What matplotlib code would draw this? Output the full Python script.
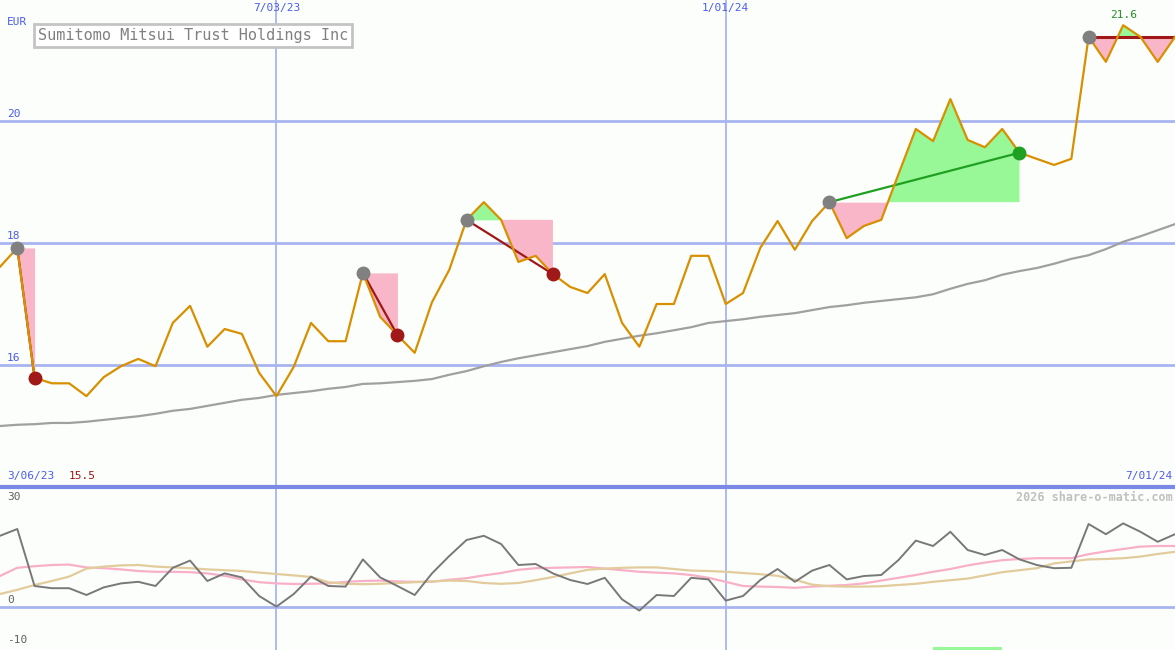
import matplotlib
matplotlib.use("Agg")
import matplotlib.pyplot as plt
import numpy as np

# weekly closes, 13 Mar 2023 .. 1 Jul 2024
price = [17.61, 17.92, 15.79, 15.70, 15.70, 15.49, 15.80, 15.98, 16.10, 15.98,
         16.69, 16.97, 16.30, 16.59, 16.51, 15.87, 15.49, 15.97, 16.69, 16.39,
         16.39, 17.51, 16.79, 16.49, 16.20, 17.03, 17.56, 18.38, 18.67, 18.38,
         17.69, 17.79, 17.49, 17.28, 17.18, 17.49, 16.69, 16.30, 17.00, 17.00,
         17.79, 17.79, 17.00, 17.18, 17.92, 18.36, 17.89, 18.36, 18.67, 18.08,
         18.28, 18.38, 19.13, 19.87, 19.67, 20.36, 19.69, 19.57, 19.87, 19.48,
         19.38, 19.28, 19.38, 21.38, 20.97, 21.57, 21.38, 20.97, 21.38]

ma_long = [15.00, 15.02, 15.03, 15.05, 15.05, 15.07, 15.10, 15.13, 15.16, 15.20,
           15.25, 15.28, 15.33, 15.38, 15.43, 15.46, 15.51, 15.54, 15.57, 15.61,
           15.64, 15.69, 15.70, 15.72, 15.74, 15.77, 15.84, 15.90, 15.98, 16.05,
           16.11, 16.16, 16.21, 16.26, 16.31, 16.38, 16.43, 16.48, 16.52, 16.57,
           16.62, 16.69, 16.72, 16.75, 16.79, 16.82, 16.85, 16.90, 16.95, 16.98,
           17.02, 17.05, 17.08, 17.11, 17.16, 17.25, 17.33, 17.39, 17.48, 17.54,
           17.59, 17.66, 17.74, 17.80, 17.90, 18.02, 18.11, 18.21, 18.31]

osc = [17.8, 19.5, 5.25, 4.7, 4.7, 3.0, 4.9, 5.9, 6.3, 5.25,
       9.8, 11.6, 6.5, 8.4, 7.4, 2.75, 0.1, 3.25, 7.6, 5.25,
       5.1, 11.9, 7.4, 5.25, 3.0, 8.4, 12.75, 16.75, 17.8, 15.75,
       10.5, 10.75, 8.4, 6.75, 5.75, 7.3, 1.9, -0.9, 3.0, 2.75,
       7.3, 6.9, 1.6, 2.75, 6.75, 9.5, 6.3, 9.1, 10.5, 6.9,
       7.75, 8.0, 11.75, 16.6, 15.25, 18.8, 14.25, 13.0, 14.25, 11.9,
       10.5, 9.7, 9.8, 20.75, 18.2, 20.9, 18.8, 16.3, 18.2]

osc_pink = [7.75, 9.8, 10.2, 10.5, 10.6, 9.9, 9.7, 9.4, 9.0, 8.8,
            8.8, 8.7, 8.4, 7.8, 6.9, 6.2, 5.9, 5.75, 5.8, 5.9,
            6.3, 6.5, 6.6, 6.4, 6.3, 6.3, 6.8, 7.2, 7.9, 8.5,
            9.3, 9.7, 9.8, 9.9, 10.0, 9.6, 9.2, 8.8, 8.6, 8.4,
            8.0, 7.3, 6.3, 5.25, 5.1, 5.0, 4.8, 5.1, 5.3, 5.5,
            5.9, 6.6, 7.3, 8.0, 8.8, 9.5, 10.4, 11.1, 11.7, 12.0,
            12.2, 12.2, 12.2, 13.2, 13.9, 14.5, 15.1, 15.25, 15.25]

osc_tan = [3.25, 4.3, 5.5, 6.5, 7.6, 9.6, 10.1, 10.4, 10.5, 10.1,
           9.9, 9.7, 9.4, 9.2, 9.0, 8.6, 8.25, 7.9, 7.5, 6.2,
           5.8, 5.7, 5.8, 6.0, 6.2, 6.4, 6.6, 6.5, 6.0, 5.8,
           6.0, 6.7, 7.5, 8.4, 9.3, 9.6, 9.8, 9.9, 9.9, 9.5,
           9.1, 9.0, 8.8, 8.5, 8.2, 7.8, 6.8, 5.6, 5.2, 5.1,
           5.1, 5.2, 5.5, 5.8, 6.3, 6.7, 7.1, 7.9, 8.7, 9.2,
           9.7, 10.9, 11.4, 11.9, 12.0, 12.2, 12.6, 13.25, 13.8]

# trades: entry week, exit week (None = still open)
entries = [1, 21, 27, 48, 63]
exits = [2, 23, 32, 59, None]

date_marks = [16, 42]
date_labels = ["7/03/23", "1/01/24"]
price_ticks = [20, 18, 16]
signal_span = (54, 58)

BG = "#fcfefc"
GRID = "#a8b4f0"
BLUE_TXT = "#4a5cf0"
PINK = "#f9b6c9"
GREEN = "#98f898"
MONO = "DejaVu Sans Mono"

price = np.array(price)
x = np.arange(len(price))

fig = plt.figure(figsize=(11.75, 6.5), dpi=100, facecolor=BG)
ax = fig.add_axes([0, 1 - 487 / 650, 1, 487 / 650])
ax2 = fig.add_axes([0, 0, 1, 1 - 487 / 650])
for a in (ax, ax2):
    a.set_facecolor(BG)
    a.set_xlim(0, 68.0)
    a.axis("off")
ax.set_ylim(14.0, 21.984)
ax2.set_ylim(-10.75, 30)

# grid
for t in price_ticks:
    ax.axhline(t, color=GRID, lw=2.0, zorder=1)
    ax.text(0.4, t + 0.03, str(t), color=BLUE_TXT, fontsize=8, family=MONO, va="bottom")
for m, lab in zip(date_marks, date_labels):
    ax.axvline(m, color=GRID, lw=1.3, zorder=1)
    ax2.axvline(m, color=GRID, lw=1.3, zorder=1)
    ax.text(m, 21.98 - 0.05, lab, color=BLUE_TXT, fontsize=8, family=MONO, ha="center", va="top")
ax.axhline(14.0, color="#7a88e8", lw=3, zorder=1)
ax2.axhline(0, color=GRID, lw=2.0, zorder=1)

ax.text(0.4, 21.63, "EUR", color=BLUE_TXT, fontsize=8, family=MONO, va="center")
ax.text(2.2, 21.4, "Sumitomo Mitsui Trust Holdings Inc", color="#808080", fontsize=11,
        family=MONO, va="center",
        bbox=dict(boxstyle="square,pad=0.25", fc="white", ec="#c4c4c4", lw=2))
ax.text(0.4, 14.1, "3/06/23", color=BLUE_TXT, fontsize=8, family=MONO, va="bottom")
ax.text(4.0, 14.1, "%.1f" % price.min(), color="#a01818", fontsize=8, family=MONO, va="bottom")
ax.text(67.85, 14.1, "7/01/24", color=BLUE_TXT, fontsize=8, family=MONO, va="bottom", ha="right")
imax = int(np.argmax(price))
ax.text(imax, price[imax] + 0.08, "%.1f" % price.max(), color="#209020", fontsize=8,
        family=MONO, ha="center", va="bottom")

# long moving average
ax.plot(x, ma_long, color="#a0a0a0", lw=1.6, zorder=2)

# trades
for e, xt in zip(entries, exits):
    end = xt if xt is not None else len(price) - 1
    seg = x[e:end + 1]
    lvl = price[e]
    ax.fill_between(seg, lvl, price[e:end + 1], where=price[e:end + 1] <= lvl,
                    color=PINK, lw=0, interpolate=True, zorder=2)
    ax.fill_between(seg, lvl, price[e:end + 1], where=price[e:end + 1] >= lvl,
                    color=GREEN, lw=0, interpolate=True, zorder=2)

ax.plot(x, price, color="#d89000", lw=1.6, zorder=4)

for e, xt in zip(entries, exits):
    if xt is None:
        ax.plot([e, len(price) - 1], [price[e], price[e]], color="#a01818", lw=2.2, zorder=3)
    else:
        col = "#20a020" if price[xt] > price[e] else "#a01818"
        ax.plot([e, xt], [price[e], price[xt]], color=col, lw=1.6, zorder=3)
        ax.plot(xt, price[xt], "o", color=col, ms=9, zorder=5)
    ax.plot(e, price[e], "o", color="#808080", ms=9, zorder=5)

# lower panel
ax2.axhline(30, color="#7a88e8", lw=3, zorder=1)
ax2.plot(x, osc_pink, color="#f8b0c8", lw=1.6, zorder=2)
ax2.plot(x, osc_tan, color="#e2cc9c", lw=1.6, zorder=2)
ax2.plot(x, osc, color="#787878", lw=1.4, zorder=3)
ax2.fill_between(signal_span, -10.75, -10.0, color=GREEN, lw=0)
ax2.text(0.4, 28.7, "30", color="#606060", fontsize=8, family=MONO, va="top")
ax2.text(0.4, 0.4, "0", color="#606060", fontsize=8, family=MONO, va="bottom")
ax2.text(0.4, -9.6, "-10", color="#606060", fontsize=8, family=MONO, va="bottom")
ax2.text(67.85, 27.3, "2026 share-o-matic.com", color="#c0c0c0", fontsize=8.5,
         family=MONO, weight="bold", ha="right", va="center")

fig.savefig("out.png", dpi=100, facecolor=BG)
